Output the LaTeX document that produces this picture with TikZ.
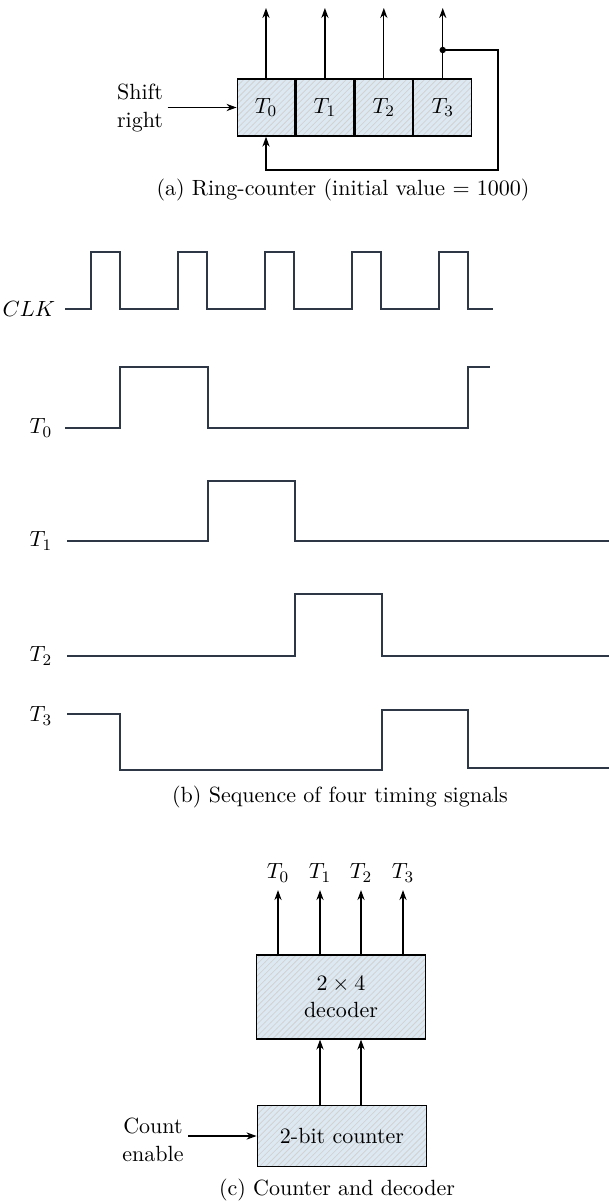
\documentclass[tikz,border=0pt,11pt]{standalone}
\usepackage{amsmath}
\usepackage{xcolor}
\usepackage{tikz}
\usetikzlibrary{arrows.meta, positioning, patterns}

\definecolor{hatchbg}{RGB}{221,233,242}
\definecolor{wavec}{RGB}{45,55,70}

\begin{document}
\begin{tikzpicture}[
  x=0.0175cm, y=-0.0175cm,
  cell/.style={draw, minimum width=1.01cm, minimum height=1.0cm,
               inner sep=0pt, preaction={fill=hatchbg},
               pattern=north east lines, pattern color=gray!35},
  blk/.style={draw, align=center, preaction={fill=hatchbg},
              pattern=north east lines, pattern color=gray!35},
  lbl/.style={align=center, inner sep=2pt},
  wave/.style={draw=wavec, line width=0.7pt},
  >={Stealth[length=5pt,width=3.6pt]}, line width=0.6pt
]
\useasboundingbox (0,0) rectangle (609,1203);

% (a) ring counter
\node[cell] (c0) at (266,107.5) {$T_0$};
\node[cell, right=0pt of c0] (c1) {$T_1$};
\node[cell, right=0pt of c1] (c2) {$T_2$};
\node[cell, right=0pt of c2] (c3) {$T_3$};
\coordinate (top) at (0,8);
\foreach \i in {0,...,3}
  \draw[->] (c\i.north) -- (c\i.north |- top);
\coordinate (tap) at (c3.north |- 0,50);
\coordinate (ret) at (498,170);
\fill (tap) circle (1.6pt);
\draw[->] (tap) -| (ret) -| (c0.south);
\node[lbl] (shift) at (140,108) {Shift\\right};
\draw[->] (shift.east |- c0.west) -- (c0.west);
\node (capa) at (343,190) {(a) Ring-counter (initial value = 1000)};

% (b) timing signals
\node[anchor=east] (clk) at (63,309) {$CLK$};
\node[anchor=east] (l0) at (60,428) {$T_0$};
\node[anchor=east] (l1) at (60,541) {$T_1$};
\node[anchor=east] (l2) at (60,656) {$T_2$};
\node[anchor=east] (l3) at (60,716) {$T_3$};
\draw[wave] (65,309) foreach \k in {0,...,4} {
    -- (91+87*\k,309) -- (91+87*\k,252) -- (120+87*\k,252) -- (120+87*\k,309)}
  -- (493,309);
\draw[wave] (65,428) -- (120,428) |- (208,367) |- (468,428) |- (490,367);
\draw[wave] (67,541) -- (208,541) |- (295,481) |- (609,541);
\draw[wave] (67,656) -- (295,656) |- (382,594) |- (609,656);
\draw[wave] (67,714) -- (120,714) |- (382,770) |- (468,710) |- (609,768);
\node (capb) at (340,797) {(b) Sequence of four timing signals};

% (c) counter and decoder
\node[blk, minimum width=2.96cm, minimum height=1.47cm] (dec) at (341,997)
    {$2\times 4$\\decoder};
\node[blk, minimum width=2.97cm, minimum height=1.07cm] (cnt) at (342,1136)
    {2-bit counter};
\foreach \x [count=\i from 0] in {278,320,361,403} {
  \node (o\i) at (\x,873) {$T_\i$};
  \draw[->] (dec.north -| o\i) -- (o\i.south);
}
\foreach \i in {1,2}
  \draw[->] (cnt.north -| o\i) -- (dec.south -| o\i);
\node[lbl] (ce) at (153,1140) {Count\\enable};
\draw[->] (ce.east |- cnt.west) -- (cnt.west);
\node (capc) at (337,1190) {(c) Counter and decoder};
\end{tikzpicture}
\end{document}
